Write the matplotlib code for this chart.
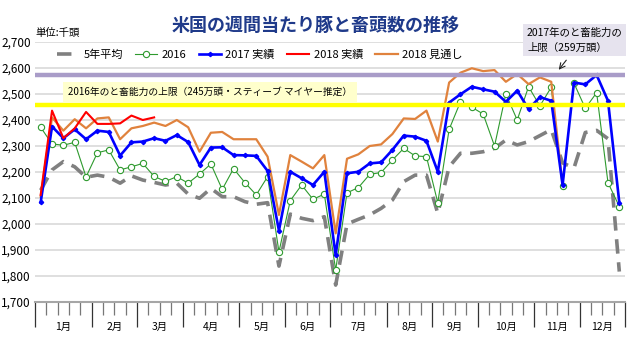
import numpy as np
import matplotlib
matplotlib.use("Agg")
import matplotlib.pyplot as plt
from matplotlib.ticker import FuncFormatter

plt.rcParams["font.family"] = ["Noto Sans CJK JP", "DejaVu Sans"]

# --- data (thousand head per week) ---
months = ["1月", "2月", "3月", "4月", "5月", "6月", "7月", "8月", "9月", "10月", "11月", "12月"]
month_weeks = [5, 4, 4, 5, 4, 4, 5, 4, 4, 5, 4, 4]

avg5 = [2130, 2208, 2240, 2220, 2180, 2188, 2180, 2157, 2185, 2169,
        2160, 2150, 2157, 2115, 2099, 2137, 2105, 2105, 2086, 2076,
        2082, 1838, 2038, 2022, 2013, 2028, 1765, 2000, 2018, 2035,
        2060, 2092, 2163, 2188, 2188, 2041, 2220, 2272, 2272, 2278,
        2291, 2323, 2304, 2317, 2340, 2363, 2235, 2215, 2352, 2360,
        2328, 1817]
y2016 = [2372, 2308, 2303, 2314, 2181, 2274, 2285, 2208, 2220, 2233,
         2183, 2164, 2182, 2157, 2192, 2231, 2133, 2213, 2159, 2112,
         2182, 1893, 2090, 2150, 2095, 2115, 1823, 2120, 2140, 2191,
         2198, 2246, 2291, 2262, 2259, 2082, 2364, 2470, 2449, 2423,
         2300, 2500, 2400, 2528, 2454, 2526, 2146, 2542, 2445, 2505,
         2159, 2067]
y2017 = [2083, 2375, 2330, 2364, 2326, 2359, 2354, 2263, 2314, 2317,
         2330, 2320, 2342, 2315, 2227, 2294, 2295, 2265, 2264, 2262,
         2204, 1975, 2201, 2176, 2150, 2201, 1880, 2195, 2201, 2233,
         2237, 2285, 2340, 2336, 2320, 2201, 2467, 2499, 2528, 2518,
         2509, 2470, 2513, 2442, 2488, 2474, 2150, 2544, 2537, 2573,
         2474, 2082]
y2018 = [2112, 2436, 2330, 2368, 2431, 2385, 2385, 2387, 2417, 2400, 2410]
y2018f = [2105, 2410, 2359, 2403, 2368, 2406, 2410, 2326, 2368, 2377,
          2390, 2377, 2400, 2372, 2278, 2351, 2354, 2326, 2326, 2326,
          2259, 2035, 2265, 2240, 2214, 2265, 1964, 2251, 2268, 2300,
          2306, 2346, 2406, 2404, 2436, 2317, 2544, 2582, 2599, 2588,
          2592, 2547, 2577, 2538, 2564, 2547, 2150]

cap2016 = 2458
cap2017 = 2575

fig = plt.figure(figsize=(6.3, 3.48), dpi=100)
ax = fig.add_axes([35 / 630, 1 - 302 / 348, 590 / 630, 260 / 348])

x = np.arange(len(avg5)) + 0.5
ax.plot(x, avg5, color="#808080", lw=2.6, dashes=(4, 2.4), label="5年平均", zorder=2)
ax.plot(x, y2016, color="#2e9a2e", lw=0.8, marker="o", ms=4.5, mfc="white",
        mec="#2e9a2e", mew=0.8, label="2016", zorder=3)
ax.plot(x, y2017, color="#0000ff", lw=1.9, marker="D", ms=2.2, label="2017 実績", zorder=5)
ax.plot(x[:len(y2018)], y2018, color="#ff0000", lw=1.5, label="2018 実績", zorder=6)
ax.plot(x[:len(y2018f)], y2018f, color="#e0823d", lw=1.6, label="2018 見通し", zorder=4)

ax.axhline(cap2017, color="#a99cc8", lw=3.2, zorder=7)
ax.axhline(cap2016, color="#ffff00", lw=3.2, zorder=7)

ax.set_xlim(0, len(avg5))
ax.set_ylim(1700, 2700)
ax.set_yticks(np.arange(1700, 2701, 100))
ax.yaxis.set_major_formatter(FuncFormatter(lambda v, p: f"{int(v):,}"))
ax.tick_params(axis="y", length=0, pad=3, labelsize=8.5)
ax.yaxis.grid(True, color="#d9d9d9", lw=1.2)
ax.set_axisbelow(True)
for s in ["top", "right", "left"]:
    ax.spines[s].set_visible(False)
ax.spines["bottom"].set_color("#a6a6a6")
ax.spines["bottom"].set_linewidth(1.5)

bounds = np.concatenate([[0], np.cumsum(month_weeks)])
ax.set_xticks(bounds)
ax.set_xticks([w for w in range(len(avg5) + 1) if w not in bounds], minor=True)
ax.tick_params(axis="x", which="major", length=18, width=0.9, color="#333333", labelbottom=False)
ax.tick_params(axis="x", which="minor", length=9.5, width=0.9, color="#777777")

centers = (bounds[:-1] + bounds[1:]) / 2
for c, m in zip(centers, months):
    ax.text(c, -0.096, m, transform=ax.get_xaxis_transform(), ha="center", va="center",
            fontsize=7.5)

leg = ax.legend(ncol=5, loc="center left", bbox_to_anchor=(0.02, 0.95), frameon=False,
                fontsize=8, handlelength=2.0, columnspacing=1.1, handletextpad=0.4)
leg.set_zorder(10)

fig.text(316 / 630, 1 - 25 / 348, "米国の週間当たり豚と畜頭数の推移", ha="center", va="center",
         fontsize=13, fontweight="bold", color="#1f3a8a")
fig.text(35 / 630, 1 - 33 / 348, "単位:千頭", ha="left", va="center", fontsize=7.5)

fig.text(68 / 630, 1 - 92 / 348, "2016年のと畜能力の上限（245万頭・スティーブ マイヤー推定）",
         ha="left", va="center", fontsize=7, zorder=10,
         bbox=dict(boxstyle="square,pad=0.55", fc="#ffffcc", ec="none"))
fig.text(527 / 630, 1 - 40 / 348, "2017年のと畜能力の\n上限（259万頭）",
         ha="left", va="center", fontsize=7.5, linespacing=1.6, zorder=10,
         bbox=dict(boxstyle="square,pad=0.35", fc="#e6e3ee", ec="none"))
ax.annotate("", xy=(557, 348 - 72), xytext=(568, 348 - 58),
            xycoords="figure pixels", textcoords="figure pixels",
            arrowprops=dict(arrowstyle="->", color="#222222", lw=0.8), zorder=10)

fig.savefig("out.png", dpi=100)
